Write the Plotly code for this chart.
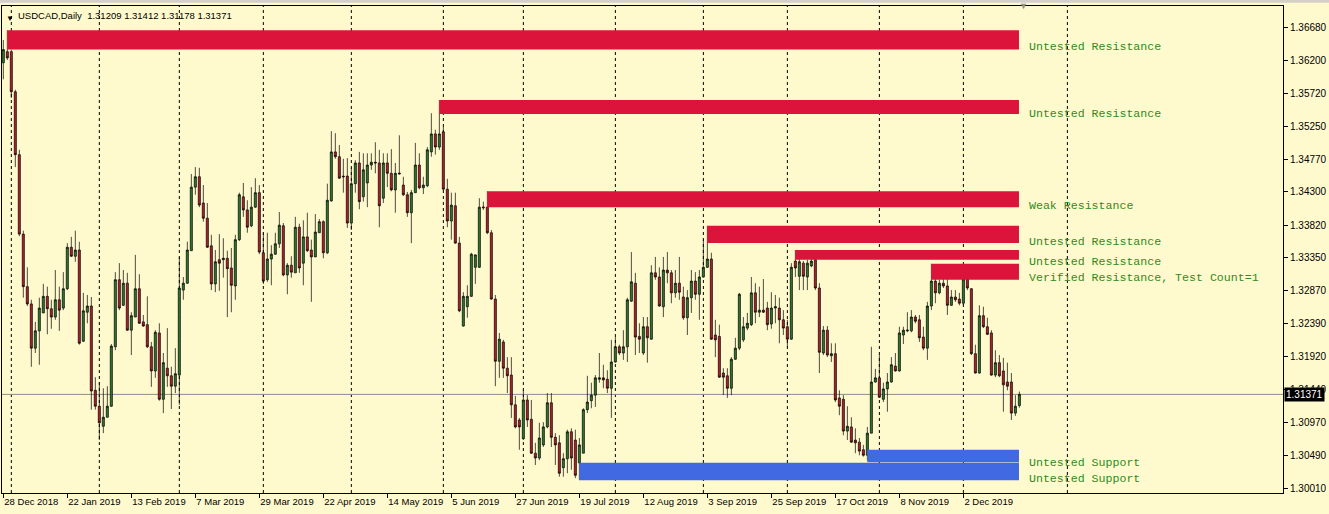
import plotly.graph_objects as go

# ---------------- data ----------------
opens = [1.3617,1.3633,1.3633,1.3575,1.3484,1.3369,1.3293,1.3268,1.3204,1.3229,
1.3255,1.3279,1.3261,1.3249,1.3274,1.3262,1.3290,1.3350,1.3337,1.3346,
1.3214,1.3256,1.3265,1.3143,1.3120,1.3091,1.3104,1.3120,1.3206,1.3303,
1.3266,1.3298,1.3230,1.3249,1.3290,1.3242,1.3238,1.3206,1.3171,1.3226,
1.3130,1.3175,1.3164,1.3149,1.3165,1.3288,1.3298,1.3345,1.3437,1.3452,
1.3414,1.3392,1.3352,1.3297,1.3332,1.3332,1.3334,1.3320,1.3294,1.3361,
1.3423,1.3404,1.3381,1.3408,1.3429,1.3342,1.3303,1.3333,1.3340,1.3355,
1.3381,1.3310,1.3324,1.3313,1.3379,1.3327,1.3365,1.3346,1.3336,1.3371,
1.3387,1.3342,1.3417,1.3488,1.3481,1.3453,1.3453,1.3385,1.3442,1.3472,
1.3423,1.3443,1.3469,1.3473,1.3472,1.3421,1.3472,1.3457,1.3433,1.3456,
1.3440,1.3426,1.3400,1.3429,1.3469,1.3436,1.3439,1.3488,1.3514,1.3495,
1.3517,1.3434,1.3388,1.3410,1.3356,1.3236,1.3264,1.3279,1.3321,1.3321,
1.3407,1.3408,1.3371,1.3275,1.3185,1.3213,1.3175,1.3165,1.3122,1.3100,
1.3073,1.3129,1.3101,1.3052,1.3045,1.3064,1.3090,1.3125,1.3075,1.3067,
1.3031,1.3044,1.3083,1.3071,1.3038,1.3052,1.3115,1.3128,1.3136,1.3159,
1.3161,1.3159,1.3146,1.3184,1.3206,1.3197,1.3206,1.3272,1.3298,1.3221,
1.3197,1.3235,1.3217,1.3313,1.3307,1.3264,1.3317,1.3313,1.3284,1.3298,
1.3278,1.3248,1.3277,1.3301,1.3282,1.3307,1.3321,1.3333,1.3223,1.3221,
1.3168,1.3164,1.3146,1.3188,1.3204,1.3216,1.3233,1.3238,1.3284,1.3256,
1.3259,1.3262,1.3239,1.3262,1.3262,1.3245,1.3235,1.3217,1.3330,1.3308,
1.3327,1.3307,1.3323,1.3332,1.3291,1.3197,1.3230,1.3193,1.3196,1.3132,
1.3130,1.3084,1.3090,1.3071,1.3068,1.3057,1.3049,1.3081,1.3155,1.3161,
1.3130,1.3145,1.3155,1.3178,1.3171,1.3223,1.3229,1.3229,1.3249,1.3245,
1.3220,1.3204,1.3265,1.3301,1.3284,1.3298,1.3294,1.3266,1.3278,1.3275,
1.3269,1.3304,1.3290,1.3196,1.3168,1.3251,1.3235,1.3226,1.3165,1.3183,
1.3171,1.3155,1.3155,1.3110,1.31209]

highs = [1.3650,1.3664,1.3636,1.3578,1.3491,1.3374,1.3321,1.3274,1.3242,1.3277,
1.3297,1.3293,1.3274,1.3317,1.3293,1.3314,1.3356,1.3365,1.3374,1.3358,
1.3284,1.3281,1.3278,1.3162,1.3155,1.3146,1.3149,1.3210,1.3314,1.3327,
1.3317,1.3313,1.3256,1.3339,1.3311,1.3252,1.3279,1.3213,1.3230,1.3240,
1.3197,1.3233,1.3177,1.3204,1.3336,1.3307,1.3358,1.3456,1.3466,1.3465,
1.3440,1.3414,1.3368,1.3346,1.3369,1.3363,1.3345,1.3349,1.3368,1.3429,
1.3443,1.3418,1.3437,1.3450,1.3440,1.3371,1.3371,1.3353,1.3371,1.3401,
1.3385,1.3327,1.3337,1.3394,1.3384,1.3389,1.3400,1.3361,1.3398,1.3391,
1.3389,1.3442,1.3518,1.3515,1.3498,1.3478,1.3479,1.3465,1.3476,1.3488,
1.3486,1.3486,1.3486,1.3502,1.3491,1.3486,1.3486,1.3492,1.3472,1.3512,
1.3452,1.3430,1.3433,1.3501,1.3486,1.3452,1.3495,1.3544,1.3520,1.3563,
1.3524,1.3449,1.3429,1.3429,1.3365,1.3285,1.3295,1.3342,1.3339,1.3421,
1.3416,1.3431,1.3375,1.3281,1.3226,1.3216,1.3191,1.3191,1.3135,1.3103,
1.3143,1.3136,1.3129,1.3067,1.3096,1.3097,1.3139,1.3139,1.3081,1.3078,
1.3052,1.3086,1.3088,1.3086,1.3074,1.3117,1.3164,1.3154,1.3165,1.3197,
1.3180,1.3172,1.3216,1.3220,1.3209,1.3230,1.3277,1.3343,1.3313,1.3240,
1.3249,1.3249,1.3324,1.3336,1.3321,1.3336,1.3343,1.3317,1.3317,1.3336,
1.3293,1.3288,1.3317,1.3314,1.3317,1.3361,1.3381,1.3342,1.3245,1.3238,
1.3175,1.3175,1.3191,1.3219,1.3284,1.3249,1.3255,1.3307,1.3298,1.3293,
1.3304,1.3271,1.3285,1.3281,1.3277,1.3259,1.3245,1.3327,1.3346,1.3334,
1.3330,1.3332,1.3334,1.3343,1.3298,1.3236,1.3236,1.3211,1.3211,1.3143,
1.3136,1.3120,1.3104,1.3088,1.3074,1.3064,1.3090,1.3206,1.3174,1.3194,
1.3154,1.3168,1.3191,1.3197,1.3235,1.3235,1.3256,1.3259,1.3252,1.3252,
1.3235,1.3271,1.3326,1.3310,1.3303,1.3314,1.3307,1.3288,1.3288,1.3284,
1.3321,1.3310,1.3291,1.3209,1.3266,1.3264,1.3248,1.3230,1.3201,1.3194,
1.3190,1.3183,1.3168,1.3136,1.31412]

lows = [1.3593,1.3621,1.3566,1.3466,1.3366,1.3277,1.3265,1.3177,1.3197,1.3180,
1.3255,1.3224,1.3232,1.3245,1.3229,1.3259,1.3288,1.3336,1.3329,1.3209,
1.3213,1.3240,1.3115,1.3115,1.3071,1.3081,1.3104,1.3119,1.3201,1.3259,
1.3265,1.3229,1.3194,1.3249,1.3239,1.3235,1.3204,1.3148,1.3161,1.3128,
1.3110,1.3148,1.3116,1.3139,1.3122,1.3274,1.3297,1.3345,1.3426,1.3408,
1.3387,1.3349,1.3288,1.3285,1.3287,1.3306,1.3249,1.3256,1.3274,1.3359,
1.3394,1.3371,1.3379,1.3407,1.3340,1.3297,1.3300,1.3295,1.3339,1.3349,
1.3308,1.3282,1.3306,1.3313,1.3313,1.3295,1.3343,1.3271,1.3336,1.3371,
1.3334,1.3340,1.3416,1.3478,1.3449,1.3429,1.3378,1.3375,1.3429,1.3405,
1.3416,1.3408,1.3462,1.3457,1.3379,1.3414,1.3437,1.3431,1.3400,1.3455,
1.3424,1.3394,1.3356,1.3429,1.3434,1.3427,1.3437,1.3481,1.3484,1.3491,
1.3433,1.3379,1.3361,1.3355,1.3256,1.3235,1.3248,1.3278,1.3297,1.3320,
1.3404,1.3369,1.3274,1.3149,1.3161,1.3161,1.3139,1.3103,1.3088,1.3057,
1.3071,1.3090,1.3051,1.3035,1.3042,1.3061,1.3088,1.3061,1.3035,1.3018,
1.3018,1.3023,1.3028,1.3016,1.3013,1.3052,1.3110,1.3117,1.3119,1.3154,
1.3146,1.3139,1.3103,1.3183,1.3194,1.3187,1.3184,1.3271,1.3194,1.3197,
1.3194,1.3183,1.3216,1.3303,1.3264,1.3249,1.3298,1.3269,1.3277,1.3274,
1.3245,1.3223,1.3255,1.3274,1.3245,1.3306,1.3320,1.3216,1.3191,1.3161,
1.3136,1.3132,1.3136,1.3187,1.3201,1.3213,1.3230,1.3236,1.3240,1.3249,
1.3255,1.3230,1.3232,1.3240,1.3211,1.3223,1.3206,1.3216,1.3307,1.3288,
1.3288,1.3288,1.3321,1.3288,1.3168,1.3194,1.3191,1.3184,1.3126,1.3107,
1.3078,1.3071,1.3067,1.3052,1.3049,1.3047,1.3041,1.3081,1.3154,1.3132,
1.3126,1.3112,1.3154,1.3170,1.3170,1.3210,1.3227,1.3227,1.3240,1.3213,
1.3201,1.3187,1.3259,1.3269,1.3282,1.3291,1.3252,1.3265,1.3271,1.3266,
1.3266,1.3288,1.3194,1.3167,1.3167,1.3233,1.3223,1.3164,1.3162,1.3162,
1.3112,1.3143,1.3100,1.3106,1.31178]

closes = [1.3636,1.3624,1.3575,1.3484,1.3369,1.3293,1.3268,1.3204,1.3229,1.3262,
1.3279,1.3261,1.3249,1.3274,1.3259,1.3290,1.3350,1.3337,1.3346,1.3211,
1.3258,1.3265,1.3142,1.3120,1.3096,1.3104,1.3120,1.3207,1.3303,1.3262,
1.3298,1.3230,1.3251,1.3290,1.3240,1.3236,1.3206,1.3171,1.3227,1.3130,
1.3183,1.3164,1.3149,1.3167,1.3291,1.3298,1.3346,1.3437,1.3452,1.3411,
1.3392,1.3350,1.3297,1.3329,1.3327,1.3334,1.3319,1.3295,1.3361,1.3426,
1.3404,1.3379,1.3408,1.3429,1.3343,1.3301,1.3333,1.3340,1.3355,1.3382,
1.3310,1.3324,1.3314,1.3379,1.3320,1.3365,1.3345,1.3336,1.3372,1.3387,
1.3342,1.3418,1.3488,1.3481,1.3450,1.3452,1.3385,1.3442,1.3472,1.3416,
1.3462,1.3469,1.3473,1.3472,1.3410,1.3472,1.3457,1.3433,1.3457,1.3457,
1.3426,1.3400,1.3429,1.3469,1.3436,1.3440,1.3491,1.3514,1.3495,1.3514,
1.3434,1.3388,1.3411,1.3356,1.3258,1.3279,1.3279,1.3340,1.3339,1.3408,
1.3408,1.3371,1.3275,1.3185,1.3217,1.3175,1.3164,1.3122,1.3090,1.3090,
1.3129,1.3100,1.3052,1.3045,1.3074,1.3090,1.3125,1.3075,1.3064,1.3023,
1.3044,1.3083,1.3045,1.3020,1.3064,1.3115,1.3126,1.3136,1.3161,1.3161,
1.3158,1.3146,1.3184,1.3206,1.3197,1.3206,1.3274,1.3300,1.3220,1.3217,
1.3235,1.3219,1.3313,1.3307,1.3265,1.3317,1.3313,1.3284,1.3298,1.3285,
1.3248,1.3277,1.3301,1.3282,1.3307,1.3321,1.3333,1.3217,1.3216,1.3162,
1.3162,1.3146,1.3188,1.3204,1.3282,1.3235,1.3240,1.3284,1.3256,1.3259,
1.3256,1.3238,1.3262,1.3264,1.3245,1.3233,1.3217,1.3321,1.3320,1.3329,
1.3308,1.3327,1.3330,1.3291,1.3198,1.3230,1.3194,1.3196,1.3129,1.3120,
1.3084,1.3091,1.3068,1.3067,1.3055,1.3049,1.3081,1.3155,1.3161,1.3133,
1.3145,1.3155,1.3180,1.3171,1.3226,1.3230,1.3230,1.3249,1.3243,1.3219,
1.3204,1.3265,1.3301,1.3284,1.3298,1.3294,1.3266,1.3278,1.3274,1.3269,
1.3304,1.3291,1.3196,1.3168,1.3251,1.3235,1.3224,1.3165,1.3183,1.3164,
1.3151,1.3149,1.3110,1.3120,1.31371]

bar_index = list(range(len(closes)))

tick_index = [0, 16, 32, 48, 64, 80, 96, 112, 128, 144, 160, 176, 192, 208, 224, 240]
tick_labels = ["28 Dec 2018", "22 Jan 2019", "13 Feb 2019", "7 Mar 2019", "29 Mar 2019",
               "22 Apr 2019", "14 May 2019", "5 Jun 2019", "27 Jun 2019", "19 Jul 2019",
               "12 Aug 2019", "3 Sep 2019", "25 Sep 2019", "17 Oct 2019", "8 Nov 2019",
               "2 Dec 2019"]

month_start_index = [2, 24, 44, 65, 87, 110, 130, 153, 175, 196, 219, 240, 266]

price_ticks = [1.30010, 1.30490, 1.30970, 1.31440, 1.31920, 1.32390, 1.32870, 1.33350,
               1.33820, 1.34300, 1.34770, 1.35250, 1.35720, 1.36200, 1.36680]

# zones: start bar, top price, bottom price, kind, label
zone_start = [1, 109, 121, 176, 198, 232, 216, 144]
zone_top = [1.3664, 1.3563, 1.3431, 1.3381, 1.3346, 1.3326, 1.3057, 1.3038]
zone_bottom = [1.3636, 1.3543, 1.3408, 1.3356, 1.3332, 1.3303, 1.3039, 1.3013]
zone_kind = ["res", "res", "res", "res", "res", "res", "sup", "sup"]
zone_label = ["Untested Resistance", "Untested Resistance", "Weak Resistance",
              "Untested Resistance", "Untested Resistance",
              "Verified Resistance, Test Count=1", "Untested Support", "Untested Support"]
label_price = [1.3640, 1.3543, 1.3410, 1.3359, 1.3329, 1.3306, 1.3038, 1.3016]

symbol = "USDCAD,Daily"
last_price = closes[-1]

# ---------------- styling ----------------
BG = "#FFFACD"
RES = "#DC143C"
SUP = "#4169E1"
TXT_GREEN = "#2E8B22"
AXFONT = "Liberation Sans, Arial, sans-serif"

fig = go.Figure()

fig.add_trace(go.Candlestick(
    x=bar_index, open=opens, high=highs, low=lows, close=closes,
    increasing=dict(line=dict(color="#000000", width=0.7), fillcolor="#2E7A2E"),
    decreasing=dict(line=dict(color="#000000", width=0.7), fillcolor="#B81E2C"),
    whiskerwidth=0, showlegend=False, hoverinfo="skip",
))

last_bar = bar_index[-1]
shapes = []
for xs in month_start_index:
    shapes.append(dict(type="line", xref="x", yref="paper", x0=xs, x1=xs, y0=0, y1=1,
                       line=dict(color="#000000", width=1, dash="3px,3px"), layer="below"))
for s, t, b, k in zip(zone_start, zone_top, zone_bottom, zone_kind):
    shapes.append(dict(type="rect", xref="x", yref="y", x0=s, x1=last_bar - 0.1, y0=b, y1=t,
                       fillcolor=RES if k == "res" else SUP, line=dict(width=0), layer="above"))
# current price line
shapes.append(dict(type="line", xref="paper", yref="y", x0=0, x1=1, y0=last_price, y1=last_price,
                   line=dict(color="#8C8C8C", width=1), layer="below"))
# window strip at top
shapes.append(dict(type="rect", xref="paper", yref="paper", x0=-0.01, x1=1.05,
                   y0=1 + 3.2 / 487, y1=1 + 7 / 487, fillcolor="#D4D0C8",
                   line=dict(width=0), layer="below"))

annotations = []
for lab, lp in zip(zone_label, label_price):
    annotations.append(dict(x=last_bar + 1.9, y=lp, xref="x", yref="y", text=lab,
                            showarrow=False, xanchor="left", yanchor="middle",
                            font=dict(family="Liberation Mono, Courier New, monospace",
                                      size=11.6, color=TXT_GREEN)))
annotations.append(dict(x=1.0, y=last_price, xref="paper", yref="y",
                        text=f"{last_price:.5f}", showarrow=False, xanchor="left",
                        yanchor="middle", xshift=1, bgcolor="#000000",
                        font=dict(family=AXFONT, size=10, color="#FFFFFF"),
                        borderpad=1))
header = f"{symbol}  {opens[-1]:.5f} {highs[-1]:.5f} {lows[-1]:.5f} {closes[-1]:.5f}"
annotations.append(dict(x=0, y=1, xref="paper", yref="paper", text=header, showarrow=False,
                        xanchor="left", yanchor="top", xshift=14, yshift=-2,
                        font=dict(family=AXFONT, size=9.5, color="#000000")))
annotations.append(dict(x=0, y=1, xref="paper", yref="paper", text="▼", showarrow=False,
                        xanchor="left", yanchor="top", xshift=2, yshift=-4,
                        font=dict(size=8, color="#000000")))
annotations.append(dict(x=last_bar + 1, y=1, xref="x", yref="paper", text="▼", showarrow=False,
                        xanchor="center", yanchor="middle", yshift=1,
                        font=dict(size=9, color="#909090")))

fig.update_layout(
    width=1329, height=514,
    margin=dict(l=2, r=46, t=6, b=21, autoexpand=False),
    paper_bgcolor=BG, plot_bgcolor=BG,
    shapes=shapes, annotations=annotations,
    showlegend=False,
    boxgap=0.25,
    xaxis=dict(range=[-0.33, 319.9], rangeslider=dict(visible=False),
               tickmode="array", tickvals=tick_index, ticktext=tick_labels,
               ticks="outside", ticklen=4, tickcolor="#000000", tickangle=0,
               ticklabelposition="outside right", automargin=False,
               tickfont=dict(family=AXFONT, size=9.5, color="#000000"),
               showgrid=False, zeroline=False, showline=True, linecolor="#000000",
               linewidth=1, mirror=True, fixedrange=True),
    yaxis=dict(range=[1.29944, 1.36991], side="right", automargin=False,
               tickmode="array", tickvals=price_ticks,
               ticktext=[f"{v:.5f}" for v in price_ticks],
               ticks="outside", ticklen=4, tickcolor="#000000",
               tickfont=dict(family=AXFONT, size=10, color="#000000"),
               showgrid=False, zeroline=False, showline=True, linecolor="#000000",
               linewidth=1, mirror=True, fixedrange=True),
)

fig.write_html("out.html", config={"displayModeBar": False},
               post_script="document.body.style.margin='0';document.body.style.background='#FFFACD';")
